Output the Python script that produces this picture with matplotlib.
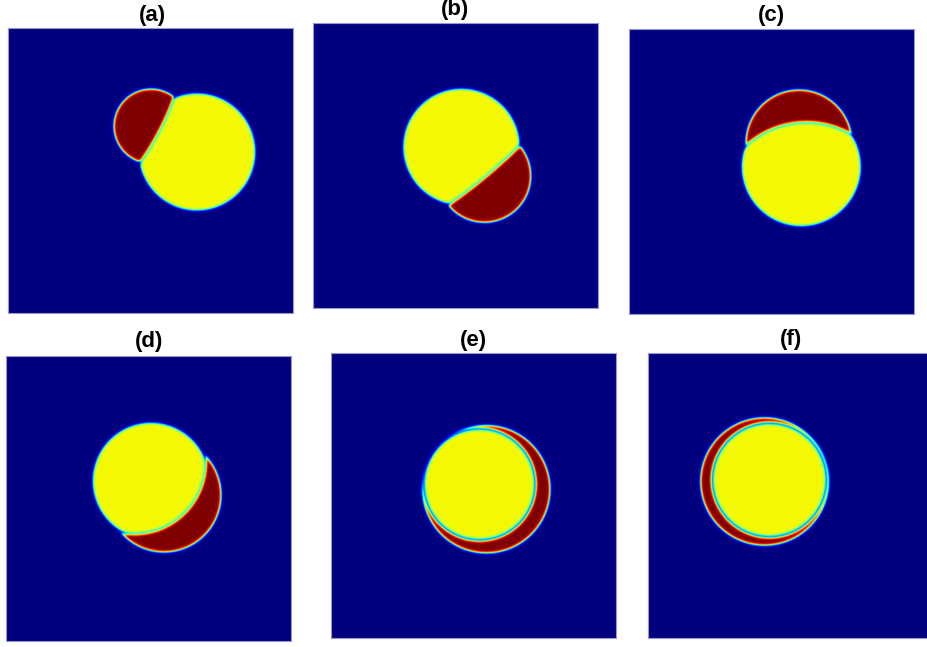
import numpy as np
import matplotlib
matplotlib.use('Agg')
import matplotlib.pyplot as plt

# ---- data (panel-normalised coordinates, y measured from the top) ----
labels = ['(a)', '(b)', '(c)', '(d)', '(e)', '(f)']

yellow_cx = [0.663, 0.521, 0.6046, 0.5088, 0.521, 0.4246]
yellow_cy = [0.437, 0.435, 0.4832, 0.4386, 0.461, 0.4456]
yellow_r = [0.204, 0.2035, 0.208, 0.2035, 0.1937, 0.198]

red_cx = [0.502, 0.6014, 0.5965, 0.5544, 0.545, 0.4077]
red_cy = [0.347, 0.5365, 0.400, 0.4877, 0.478, 0.4509]
red_r = [0.130, 0.1628, 0.186, 0.200, 0.2235, 0.2235]

# interface between the two drops (circle), and whether yellow lies inside it
iface_cx = [-0.321, -0.591, 0.6228, 0.4502, 0.521, 0.4246]
iface_cy = [-0.083, -0.8975, 0.6435, 0.374, 0.461, 0.4456]
iface_r = [0.965, 1.867, 0.313, 0.2474, 0.1937, 0.198]
yellow_inside = [False, True, True, True, True, True]

yellow_value = 0.645
red_value = 1.0

# ---- layout (pixels in the 927x647 figure) ----
W, H = 927, 647
S = 285
panel_xy = [(8, 28), (313, 23), (629, 29), (6, 356), (331, 353), (648, 353)]
title_xy = [(152, 15.5), (455.5, 9.5), (771.5, 15.5), (149, 342), (473.5, 340.5), (791, 339.5)]

N = 720
w = 0.005
gap = 1.0 * w
xs = (np.arange(N) + 0.5) / N
X, Y = np.meshgrid(xs, xs)


def inside(cx, cy, r):
    d = np.hypot(X - cx, Y - cy)
    return 0.5 * (1 + np.tanh((r - d) / w))


fig = plt.figure(figsize=(W / 100, H / 100), dpi=100)
fig.patch.set_facecolor('white')

for i, lab in enumerate(labels):
    x0, y0 = panel_xy[i]
    ax = fig.add_axes([x0 / W, 1 - (y0 + S) / H, S / W, S / H])
    iY = inside(yellow_cx[i], yellow_cy[i], yellow_r[i])
    iR = inside(red_cx[i], red_cy[i], red_r[i])
    s = 1.0 if yellow_inside[i] else -1.0
    sd = s * (iface_r[i] - np.hypot(X - iface_cx[i], Y - iface_cy[i]))
    sideY = 0.5 * (1 + np.tanh(sd / w))
    sideR = 0.5 * (1 - np.tanh((sd + gap) / w))
    field = yellow_value * iY * sideY + red_value * iR * sideR
    field = np.clip(field, 0, 1)
    ax.imshow(field, cmap='jet', vmin=0, vmax=1, extent=[0, 1, 1, 0],
              interpolation='bilinear', aspect='auto')
    ax.set_xlim(0, 1)
    ax.set_ylim(1, 0)
    ax.set_xticks([])
    ax.set_yticks([])
    for sp in ax.spines.values():
        sp.set_color('#9a9ad0')
        sp.set_linewidth(0.8)
    tx, ty = title_xy[i]
    fig.text(tx / W, 1 - ty / H, lab, ha='center', va='center',
             fontsize=16, fontweight='bold', family=['Liberation Sans', 'DejaVu Sans'])

fig.savefig('out.png', dpi=100, facecolor='white')
